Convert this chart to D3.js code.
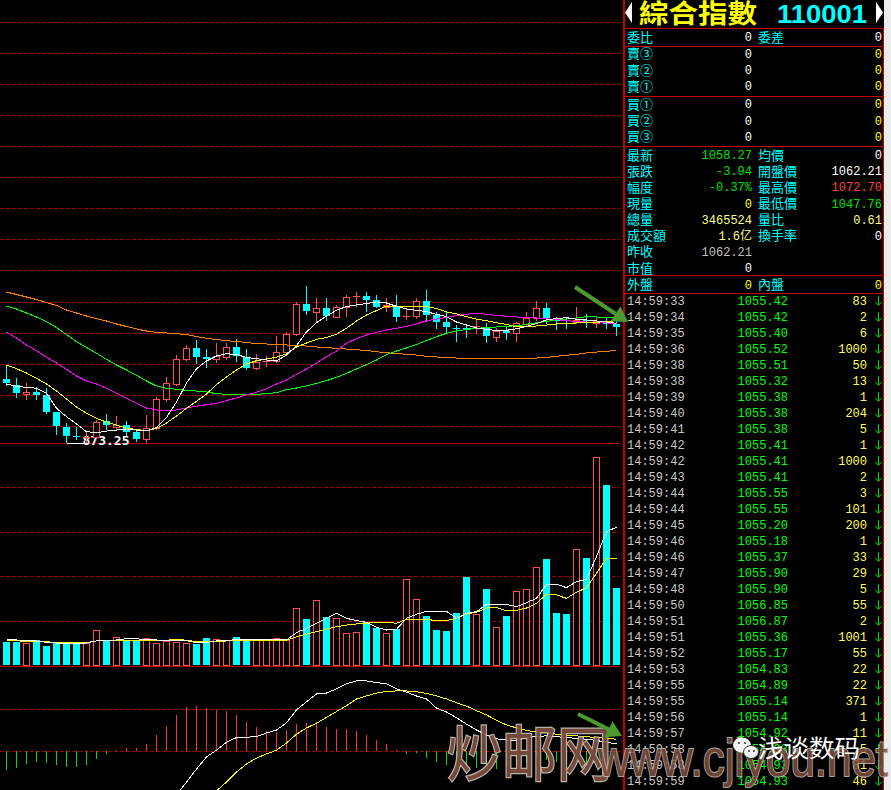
<!DOCTYPE html>
<html><head><meta charset="utf-8">
<script src="https://cdn.jsdelivr.net/npm/d3@7/dist/d3.min.js"></script>
<style>html,body{margin:0;padding:0;background:#000;overflow:hidden}svg{display:block}</style>
</head><body>
<svg id="chart" width="891" height="790"></svg>
<script>
// ---------------- DATA ----------------
const open = [972.7, 963.3, 949.2, 952.8, 947.2, 920.6, 898.0, 883.4, 880.8, 882.3,
 907.4, 898.0, 900.2, 889.7, 878.3, 895.5, 940.9, 964.4, 1003.6, 1020.8,
 1006.7, 1003.6, 1006.7, 1022.4, 1006.7, 989.5, 998.9, 1001.0, 1014.6, 1042.8,
 1090.3, 1078.2, 1083.5, 1070.4, 1085.1, 1100.8, 1102.8, 1096.5, 1085.1, 1087.6,
 1069.4, 1071.5, 1095.4, 1073.0, 1061.6, 1052.2, 1052.2, 1054.2, 1053.1, 1039.0,
 1047.5, 1044.4, 1058.9, 1067.9, 1083.5, 1066.3, 1065.7, 1061.6, 1065.2, 1060.0,
 1061.6, 1058.9];
const high = [993.1, 973.8, 966.0, 959.7, 958.2, 921.5, 903.3, 898.0, 890.2, 908.5,
 917.4, 914.8, 906.5, 894.0, 916.3, 945.0, 975.4, 1010.3, 1025.5, 1033.8,
 1019.7, 1028.7, 1028.7, 1034.9, 1019.7, 1011.9, 1008.8, 1040.1, 1046.8, 1093.9,
 1118.5, 1100.1, 1099.2, 1088.7, 1104.4, 1109.5, 1108.6, 1104.4, 1099.2, 1104.4,
 1082.0, 1099.2, 1112.2, 1078.2, 1078.2, 1057.3, 1058.9, 1066.3, 1061.0, 1052.2,
 1054.7, 1061.6, 1077.3, 1095.0, 1091.4, 1070.4, 1070.4, 1085.1, 1074.1, 1067.9,
 1069.4, 1065.2];
const low = [963.3, 945.0, 941.4, 940.9, 919.0, 886.6, 873.25, 878.3, 874.8, 881.4,
 894.0, 894.0, 885.0, 876.1, 874.5, 894.4, 938.7, 963.3, 1002.5, 997.3,
 990.8, 999.9, 1004.1, 1001.4, 987.9, 988.4, 993.1, 999.9, 1013.0, 1041.7,
 1074.1, 1064.1, 1065.2, 1070.4, 1071.5, 1087.6, 1079.8, 1085.1, 1079.8, 1064.1,
 1066.3, 1067.9, 1064.1, 1052.2, 1044.4, 1032.8, 1039.0, 1044.8, 1031.2, 1032.8,
 1035.4, 1032.8, 1057.3, 1065.2, 1061.0, 1051.1, 1052.2, 1060.0, 1053.8, 1053.8,
 1052.2, 1041.7];
const close = [966.0, 951.3, 952.4, 947.7, 920.6, 899.6, 883.9, 881.9, 882.3, 905.8,
 900.7, 900.7, 889.7, 878.7, 895.5, 941.4, 966.0, 1003.6, 1020.8, 1007.7,
 1004.6, 1008.8, 1022.4, 1008.8, 990.4, 998.9, 1001.4, 1015.0, 1042.8, 1090.3,
 1079.8, 1084.0, 1071.9, 1085.1, 1100.8, 1103.3, 1096.5, 1086.0, 1088.7, 1070.4,
 1071.9, 1095.4, 1073.0, 1062.5, 1053.8, 1050.6, 1050.6, 1055.8, 1040.6, 1048.0,
 1045.3, 1060.0, 1067.9, 1083.5, 1068.8, 1064.1, 1064.1, 1065.7, 1063.2, 1064.1,
 1058.5, 1054.7];

const ma5 = [964.9, 961.3, 959.7, 958.2, 950.3, 926.8, 913.7, 902.2, 890.2, 888.6,
 891.2, 892.8, 894.4, 892.8, 891.7, 896.7, 912.4, 936.7, 966.5, 988.9,
 1000.9, 1008.8, 1012.4, 1010.8, 1006.7, 1004.5, 1002.5, 1000.9, 1010.3, 1025.2,
 1046.4, 1060.9, 1071.4, 1080.4, 1086.3, 1088.7, 1091.0, 1093.4, 1091.8, 1086.6,
 1082.4, 1080.4, 1078.2, 1074.1, 1070.6, 1062.0, 1057.3, 1052.6, 1050.6, 1048.7,
 1049.0, 1051.5, 1055.0, 1059.7, 1065.2, 1067.5, 1068.8, 1066.3, 1065.2, 1063.6,
 1062.0, 1060.0];
const ma10 = [994.7, 988.9, 982.1, 973.8, 964.9, 953.9, 941.4, 928.9, 919.0, 911.1,
 905.4, 900.2, 895.9, 893.6, 891.7, 895.2, 903.8, 914.8, 926.8, 937.8,
 949.2, 964.1, 975.9, 986.8, 996.2, 1001.4, 1004.1, 1006.7, 1012.4, 1022.9,
 1029.1, 1034.9, 1037.7, 1042.8, 1052.2, 1063.6, 1073.0, 1080.0, 1087.1, 1087.1,
 1087.1, 1086.0, 1086.0, 1083.2, 1077.7, 1074.6, 1070.3, 1066.7, 1064.1, 1060.9,
 1058.1, 1054.7, 1054.7, 1055.8, 1057.3, 1058.9, 1059.4, 1060.5, 1060.9, 1061.6,
 1062.8, 1064.1];
const ma20 = [1046.4, 1037.0, 1026.0, 1017.1, 1006.7, 997.8, 987.9, 977.4, 969.6, 964.9,
 958.2, 950.3, 942.5, 934.6, 927.3, 924.2, 923.1, 924.2, 927.3, 930.0,
 932.5, 934.6, 939.0, 943.0, 947.7, 951.9, 957.5, 964.9, 971.2, 980.1,
 988.4, 997.8, 1007.7, 1016.6, 1028.7, 1035.9, 1041.7, 1045.9, 1049.5, 1052.2,
 1055.3, 1058.9, 1064.1, 1066.7, 1069.1, 1072.2, 1074.1, 1075.7, 1074.1, 1072.5,
 1071.0, 1069.9, 1069.4, 1068.3, 1067.2, 1065.6, 1064.4, 1062.5, 1062.0, 1061.6,
 1060.5, 1059.4];
const ma30 = [1087.1, 1082.4, 1076.1, 1069.9, 1062.8, 1053.4, 1042.4, 1031.2, 1022.1, 1013.0,
 1003.6, 994.7, 986.8, 978.5, 969.6, 961.8, 958.2, 956.6, 955.0, 953.9,
 952.4, 949.7, 948.8, 948.8, 948.8, 948.8, 949.7, 951.3, 956.0, 958.6,
 961.8, 966.0, 970.1, 975.4, 981.7, 988.4, 995.4, 1002.5, 1010.8, 1016.6,
 1021.3, 1026.8, 1033.0, 1039.0, 1044.3, 1047.9, 1050.3, 1052.2, 1053.1, 1054.2,
 1055.3, 1056.2, 1058.4, 1060.9, 1063.1, 1065.2, 1066.7, 1068.3, 1070.3, 1069.9,
 1069.4, 1068.8];
const ma60 = [1109.0, 1105.1, 1101.2, 1097.3, 1092.6, 1087.9, 1080.8, 1076.1, 1071.4, 1067.2,
 1063.6, 1058.9, 1055.0, 1051.1, 1047.9, 1045.9, 1044.8, 1043.7, 1042.4, 1039.3,
 1036.5, 1034.6, 1032.7, 1031.5, 1029.9, 1028.3, 1027.6, 1026.8, 1026.0, 1025.2,
 1024.4, 1022.9, 1021.8, 1020.8, 1019.7, 1018.6, 1017.4, 1015.5, 1013.9, 1012.7,
 1011.4, 1010.3, 1008.3, 1007.2, 1006.4, 1005.6, 1004.5, 1004.1, 1004.1, 1004.1,
 1004.1, 1004.1, 1004.5, 1005.6, 1006.7, 1008.3, 1009.9, 1011.4, 1013.5, 1015.0,
 1016.1, 1017.4];

const volume = [26.2, 26.2, 24.4, 28.1, 21.3, 24.4, 24.4, 24.4, 24.4, 39.0,
 27.0, 31.1, 27.0, 28.1, 30.0, 24.4, 27.0, 25.5, 24.4, 23.6,
 30.3, 28.9, 27.8, 31.5, 27.0, 28.4, 28.1, 30.0, 28.4, 63.7,
 51.7, 72.7, 53.9, 52.5, 35.6, 36.7, 48.0, 41.9, 35.6, 40.4,
 96.3, 73.8, 55.1, 39.3, 38.2, 58.4, 98.9, 57.3, 85.4, 42.4,
 55.1, 82.8, 85.1, 109.8, 119.1, 58.4, 57.3, 130.0, 120.2, 233.4,
 202.2, 86.5];
const volMa5 = [28.1, 28.1, 27.0, 27.0, 25.5, 24.7, 24.7, 24.7, 24.7, 27.0,
 27.3, 28.1, 29.6, 29.6, 28.1, 28.1, 27.0, 27.3, 27.3, 25.1,
 25.1, 27.0, 27.0, 28.9, 28.9, 28.9, 28.1, 28.1, 28.1, 36.3,
 41.2, 46.9, 52.5, 58.1, 52.5, 49.8, 48.0, 42.4, 39.3, 40.1,
 52.5, 57.0, 60.3, 60.3, 60.3, 52.5, 58.1, 59.9, 68.2, 68.2,
 68.2, 65.5, 70.0, 74.9, 90.7, 90.7, 86.9, 93.6, 96.3, 121.7,
 149.8, 154.7];
const volMa10 = [27.3, 27.3, 26.2, 26.2, 26.2, 25.1, 25.1, 25.1, 25.1, 27.0,
 27.0, 27.0, 27.0, 27.0, 27.8, 27.8, 27.8, 28.9, 27.8, 26.2,
 26.2, 26.2, 27.0, 27.0, 27.0, 27.0, 27.8, 27.8, 27.8, 31.8,
 34.8, 37.4, 40.4, 43.0, 44.9, 46.1, 46.9, 48.0, 48.0, 46.9,
 51.3, 51.3, 51.3, 49.8, 49.8, 52.5, 57.3, 59.2, 64.0, 64.8,
 60.7, 61.5, 64.0, 69.3, 79.4, 78.7, 74.9, 81.7, 86.9, 103.0,
 119.9, 119.9];

const macdHist = [-4.45, -3.98, -3.17, -2.55, -2.79, -3.33, -3.74, -3.74, -3.33, -1.83,
 -0.64, 0.24, 0.71, 0.79, 1.67, 3.81, 5.95, 8.57, 10.48, 10.79,
 10.31, 9.76, 9.52, 8.64, 6.90, 5.71, 4.76, 4.45, 5.07, 6.50,
 6.67, 6.83, 5.71, 5.24, 5.24, 4.76, 3.81, 2.62, 1.67, 0.24,
 -0.79, -0.55, -1.60, -2.55, -3.33, -3.74, -4.52, -4.05, -3.74, -4.29,
 -3.74, -3.33, -2.93, -1.50, -2.14, -2.55, -3.17, -3.33, -3.33, -2.93,
 -1.50, -2.14];
const dif = [null, null, null, null, null, null, null, null, null, null,
 null, null, null, null, null, null, -14.0, -10.5, -7.4, -4.3,
 -1.4, 0.2, 2.1, 3.2, 3.3, 3.4, 4.3, 5.0, 6.7, 9.8,
 11.7, 13.6, 13.8, 14.8, 16.0, 16.7, 16.7, 16.3, 16.0, 14.8,
 14.0, 13.1, 12.4, 10.2, 9.3, 7.9, 6.4, 5.0, 3.8, 2.9,
 2.6, 2.6, 3.1, 3.5, 3.6, 3.4, 3.2, 3.0, 2.8, 2.5,
 2.1, 1.7];
const dea = [null, null, null, null, null, null, null, null, null, null,
 null, null, null, null, null, null, null, null, null, null,
 -11.7, -9.5, -7.4, -5.0, -3.1, -1.7, -0.7, 0.2, 1.9, 4.0,
 5.5, 6.6, 8.0, 9.4, 10.8, 12.4, 13.1, 13.8, 14.2, 14.3,
 14.3, 14.1, 13.7, 13.1, 12.4, 11.5, 10.7, 9.6, 8.6, 7.3,
 6.2, 5.5, 4.9, 4.5, 4.3, 4.0, 3.8, 3.6, 3.4, 3.2,
 3.0, 2.8];

// right panel texts
const title = "綜合指數";
const indexCode = "110001";
const ratioRow = ["委比", "0", "委差", "0"];
const bookLabels = ["賣③", "賣②", "賣①", "買①", "買②", "買③"];
const bookPrices = ["0", "0", "0", "0", "0", "0"];
const bookVols = ["0", "0", "0", "0", "0", "0"];
const quoteLabelsL = ["最新", "張跌", "幅度", "現量", "總量", "成交額", "昨收", "市值"];
const quoteValuesL = ["1058.27", "-3.94", "-0.37%", "0", "3465524", "1.6亿", "1062.21", "0"];
const quoteLabelsR = ["均價", "開盤價", "最高價", "最低價", "量比", "換手率"];
const quoteValuesR = ["0", "1062.21", "1072.70", "1047.76", "0.61", "0"];
const sideRow = ["外盤", "0", "內盤", "0"];
const tickTimes = ["14:59:33","14:59:34","14:59:35","14:59:36","14:59:38","14:59:38","14:59:39","14:59:40",
 "14:59:41","14:59:42","14:59:42","14:59:43","14:59:44","14:59:44","14:59:45","14:59:46","14:59:46",
 "14:59:47","14:59:48","14:59:50","14:59:51","14:59:51","14:59:52","14:59:53","14:59:55","14:59:55",
 "14:59:56","14:59:57","14:59:58","14:59:58","14:59:59"];
const tickPrices = ["1055.42","1055.42","1055.40","1055.52","1055.51","1055.32","1055.38","1055.38",
 "1055.38","1055.41","1055.41","1055.41","1055.55","1055.55","1055.20","1055.18","1055.37",
 "1055.90","1055.90","1056.85","1056.87","1055.36","1055.17","1054.83","1054.89","1055.14",
 "1055.14","1054.92","1054.93","1054.93","1054.93"];
const tickVols = ["83","2","6","1000","50","13","1","204","5","1","1000","2","3","101","200","1","33",
 "29","5","55","2","1001","55","22","22","371","1","11","5","81","46"];
const watermarkCn = "炒邮网";
const watermarkUrl = "www.cjiyou.net";
const wechatName = "浅谈数码";

// ---------------- DRAW ----------------
const CJK = '"Noto Sans CJK TC","Noto Sans CJK SC",sans-serif';
const MONO = '"Liberation Mono","DejaVu Sans Mono",monospace';
const C = {up:'#ff5050', down:'#00ffff', grid:'#a00000', sep:'#b80000', box:'#c80000',
  ma5:'#ffffff', ma10:'#ffff00', ma20:'#ff00ff', ma30:'#00ff00', ma60:'#ff8000',
  label:'#00ffff', white:'#ffffff', yellow:'#ffff00', pale:'#ffff80', green:'#00e000', red:'#ff4040', grey:'#c0c0c0'};

const svg = d3.select('#chart');
const defs = svg.append('defs');
function clip(id,x,y,w,h){defs.append('clipPath').attr('id',id).append('rect').attr('x',x).attr('y',y).attr('width',w).attr('height',h);}
clip('cp',0,0,621,443);
clip('cv',0,444,621,222);
clip('cm',0,667,621,123);
svg.append('rect').attr('width',891).attr('height',790).attr('fill','#000');

const N = close.length;
const x = d3.scalePoint().domain(d3.range(N)).range([6.5, 616.5]);
const yP = d3.scaleLinear().domain([873.25, 1096.5]).range([442.5, 300]);
const yV = d3.scaleLinear().domain([0, 200]).range([665, 487]);
const yM = d3.scaleLinear().domain([0, 10]).range([751, 709]);
const px = i => Math.floor(x(i)) + 0.5;
const isUp = i => close[i] >= open[i];

function hline(g, y, color, dash){
  const l = g.append('line').attr('x1',0).attr('x2',620).attr('y1',Math.round(y)+0.5).attr('y2',Math.round(y)+0.5)
    .attr('stroke',color).attr('stroke-width',1).attr('shape-rendering','crispEdges');
  if (dash) l.attr('stroke-dasharray','4,2');
}
function series(g, data, yS, color){
  g.append('path').datum(data).attr('fill','none').attr('stroke',color).attr('stroke-width',1)
    .attr('shape-rendering','crispEdges')
    .attr('d', d3.line().defined(d => d != null).x((d,i) => x(i)).y(d => yS(d)));
}

// grid lines
const gGrid = svg.append('g');
const priceTicks = d3.range(14).map(k => 899.1 + 48.73 * k);
priceTicks.forEach(t => hline(gGrid, yP(t), C.grid, true));
[50,100,150,200].forEach(t => hline(gGrid, yV(t), C.grid, true));
[0,10].forEach(t => hline(gGrid, yM(t), C.grid, true));
hline(gGrid, 443, C.sep, false);
hline(gGrid, 666, C.sep, false);

// low label
const lowIdx = low.indexOf(d3.min(low));
const lx = px(lowIdx), ly = Math.round(yP(low[lowIdx])) + 0.5;
svg.append('line').attr('x1',lx).attr('x2',lx+18).attr('y1',ly).attr('y2',ly).attr('stroke','#fff').attr('shape-rendering','crispEdges');
svg.append('text').attr('x',lx+16).attr('y',ly+1).text(d3.format('.2f')(low[lowIdx]))
  .attr('fill','#fff').style('font',`bold 13px "DejaVu Sans Mono",monospace`);

// candles
const gP = svg.append('g').attr('clip-path','url(#cp)');
d3.range(N).forEach(i => {
  const up = isUp(i), col = up ? C.up : C.down, cx = px(i);
  const yo = yP(open[i]), yc = yP(close[i]);
  const top = Math.round(Math.min(yo,yc)), bot = Math.round(Math.max(yo,yc));
  gP.append('line').attr('x1',cx).attr('x2',cx).attr('y1',Math.round(yP(high[i]))).attr('y2',Math.round(yP(low[i]))+1)
    .attr('stroke',col).attr('shape-rendering','crispEdges');
  if (bot - top <= 1) {
    gP.append('rect').attr('x',cx-3.5).attr('y',top).attr('width',7).attr('height',Math.max(1,bot-top)).attr('fill',col);
  } else if (up) {
    gP.append('rect').attr('x',cx-3).attr('y',top+0.5).attr('width',6).attr('height',bot-top)
      .attr('fill','#000').attr('stroke',col).attr('shape-rendering','crispEdges');
  } else {
    gP.append('rect').attr('x',cx-3.5).attr('y',top).attr('width',7).attr('height',bot-top).attr('fill',col);
  }
});
series(gP, ma60, yP, C.ma60);
series(gP, ma30, yP, C.ma30);
series(gP, ma20, yP, C.ma20);
series(gP, ma10, yP, C.ma10);
series(gP, ma5, yP, C.ma5);

// volume
const gV = svg.append('g').attr('clip-path','url(#cv)');
d3.range(N).forEach(i => {
  const cx = px(i), yt = Math.round(yV(volume[i])), y0 = yV(0);
  if (isUp(i)) {
    gV.append('rect').attr('x',cx-3).attr('y',yt+0.5).attr('width',6).attr('height',y0-yt)
      .attr('fill','#000').attr('stroke',C.up).attr('shape-rendering','crispEdges');
  } else {
    gV.append('rect').attr('x',cx-3.5).attr('y',yt).attr('width',7).attr('height',y0-yt).attr('fill',C.down);
  }
});
series(gV, volMa10, yV, C.ma10);
series(gV, volMa5, yV, C.ma5);

// MACD
const gM = svg.append('g').attr('clip-path','url(#cm)');
d3.range(N).forEach(i => {
  const v = macdHist[i], cx = px(i);
  gM.append('line').attr('x1',cx).attr('x2',cx).attr('y1',yM(0)).attr('y2',yM(v))
    .attr('stroke', v >= 0 ? '#ff3030' : '#00e000').attr('shape-rendering','crispEdges');
});
series(gM, dea, yM, C.ma10);
series(gM, dif, yM, C.ma5);

// ---------------- RIGHT PANEL ----------------
const R = svg.append('g');
R.append('rect').attr('x',884).attr('y',0).attr('width',7).attr('height',790).attr('fill','#ececec');
R.append('rect').attr('x',623).attr('y',0).attr('width',2).attr('height',790).attr('fill',C.box);
R.append('line').attr('x1',883.5).attr('x2',883.5).attr('y1',28).attr('y2',790).attr('stroke',C.box).attr('shape-rendering','crispEdges');
[28,46,96,146,275,293].forEach(y => R.append('line').attr('x1',624).attr('x2',884).attr('y1',y+0.5).attr('y2',y+0.5)
  .attr('stroke',C.box).attr('shape-rendering','crispEdges'));
R.append('path').attr('d','M632,2 L632,23 L625,12.5 Z').attr('fill','#fff');
R.append('path').attr('d','M876,2 L876,23 L883,12.5 Z').attr('fill','#fff');
R.append('text').attr('x',639).attr('y',23).text(title).attr('fill','#ffff00')
  .style('font',`bold 26px ${CJK}`).attr('textLength',118).attr('lengthAdjust','spacingAndGlyphs');
R.append('text').attr('x',777).attr('y',23).text(indexCode).attr('fill','#00ffff')
  .style('font','bold 25px "Liberation Sans",Arial,sans-serif').attr('textLength',90).attr('lengthAdjust','spacingAndGlyphs');

function T(xx, yc, s, color, anchor, cjk){
  R.append('text').attr('x',xx).attr('y', yc + (cjk ? 4.8 : 4.2)).text(s).attr('fill',color)
    .attr('text-anchor', anchor || 'start')
    .style('font', cjk ? `13px ${CJK}` : `12px ${MONO}, ${CJK}`);
}
const L1 = 627, V1 = 752, L2 = 758, V2 = 882;
// ratio row
T(L1, 36.7, ratioRow[0], C.label, 'start', true);
T(V1, 36.7, ratioRow[1], C.white, 'end');
T(L2, 36.7, ratioRow[2], C.label, 'start', true);
T(V2, 36.7, ratioRow[3], C.white, 'end');
// order book
const bookY = [53.3, 69.7, 86, 104, 120.3, 136.5];
bookLabels.forEach((s,k) => {
  T(L1, bookY[k], s, C.label, 'start', true);
  T(V1, bookY[k], bookPrices[k], C.white, 'end');
  T(V2, bookY[k], bookVols[k], C.yellow, 'end');
});
// quote block
const qY = d3.range(8).map(k => 155 + 16.1 * k);
const qColL = [C.green, C.green, C.green, C.yellow, C.pale, C.pale, C.grey, C.white];
const qColR = [C.white, C.white, C.red, C.green, C.pale, C.white];
quoteLabelsL.forEach((s,k) => { T(L1, qY[k], s, C.label, 'start', true); T(V1, qY[k], quoteValuesL[k], qColL[k], 'end'); });
quoteLabelsR.forEach((s,k) => { T(L2, qY[k], s, C.label, 'start', true); T(V2, qY[k], quoteValuesR[k], qColR[k], 'end'); });
// outer/inner
T(L1, 284.3, sideRow[0], C.label, 'start', true);
T(V1, 284.3, sideRow[1], C.yellow, 'end');
T(L2, 284.3, sideRow[2], C.label, 'start', true);
T(V2, 284.3, sideRow[3], C.yellow, 'end');
// tick list
tickTimes.forEach((t,k) => {
  const yc = 300.7 + 16 * k;
  T(627, yc, t, '#c8c8c8', 'start');
  T(788, yc, tickPrices[k], '#00ff00', 'end');
  T(867, yc, tickVols[k], '#ffff50', 'end');
  R.append('path').attr('d',`M878.5,${yc-4.5} V${yc+4.5} M875,${yc+1} L878.5,${yc+4.5} L882,${yc+1}`)
    .attr('stroke','#00e000').attr('fill','none').attr('stroke-width',1);
});

// ---------------- OVERLAYS (watermarks, arrows) ----------------
const W = svg.append('g');
W.append('text').attr('x',447).attr('y',776).text(watermarkCn)
  .attr('fill','#7e4f3f').attr('stroke','#c9bfb5').attr('stroke-width',2.5).attr('paint-order','stroke')
  .attr('opacity',0.92).attr('textLength',165).attr('lengthAdjust','spacingAndGlyphs')
  .style('font',`60px "Noto Sans CJK SC",sans-serif`);
W.append('text').attr('x',598).attr('y',776).text(watermarkUrl)
  .attr('fill','#7e4f3f').attr('stroke','#c9bfb5').attr('stroke-width',2).attr('paint-order','stroke')
  .attr('opacity',0.85).attr('textLength',290).attr('lengthAdjust','spacingAndGlyphs')
  .style('font','52px "Liberation Sans",Arial,sans-serif');
// wechat icon
W.append('ellipse').attr('cx',742).attr('cy',745).attr('rx',9).attr('ry',7.5).attr('fill','#f4f4f4');
W.append('ellipse').attr('cx',751).attr('cy',752).attr('rx',7.5).attr('ry',6.5).attr('fill','#f4f4f4').attr('stroke','#333').attr('stroke-width',1);
[[739,743],[745,743],[749,751],[754,751]].forEach(p => W.append('circle').attr('cx',p[0]).attr('cy',p[1]).attr('r',1.1).attr('fill','#444'));
W.append('text').attr('x',758).attr('y',757).text(wechatName).attr('fill','#ffffff')
  .attr('textLength',102).attr('lengthAdjust','spacingAndGlyphs')
  .style('font',`24px "Noto Sans CJK SC",sans-serif`);

function arrow(x1,y1,x2,y2){
  const a = Math.atan2(y2-y1, x2-x1), hl = 15, hw = 9;
  const bx = x2 - hl*Math.cos(a), by = y2 - hl*Math.sin(a);
  W.append('line').attr('x1',x1).attr('y1',y1).attr('x2',bx).attr('y2',by).attr('stroke','#4c9a2e').attr('stroke-width',4);
  W.append('path').attr('d',`M${x2},${y2} L${bx+hw*Math.sin(a)},${by-hw*Math.cos(a)} L${bx-hw*Math.sin(a)},${by+hw*Math.cos(a)} Z`).attr('fill','#4c9a2e');
}
arrow(575, 287, 628, 322);
arrow(578, 714, 622, 736);
</script>
</body></html>
